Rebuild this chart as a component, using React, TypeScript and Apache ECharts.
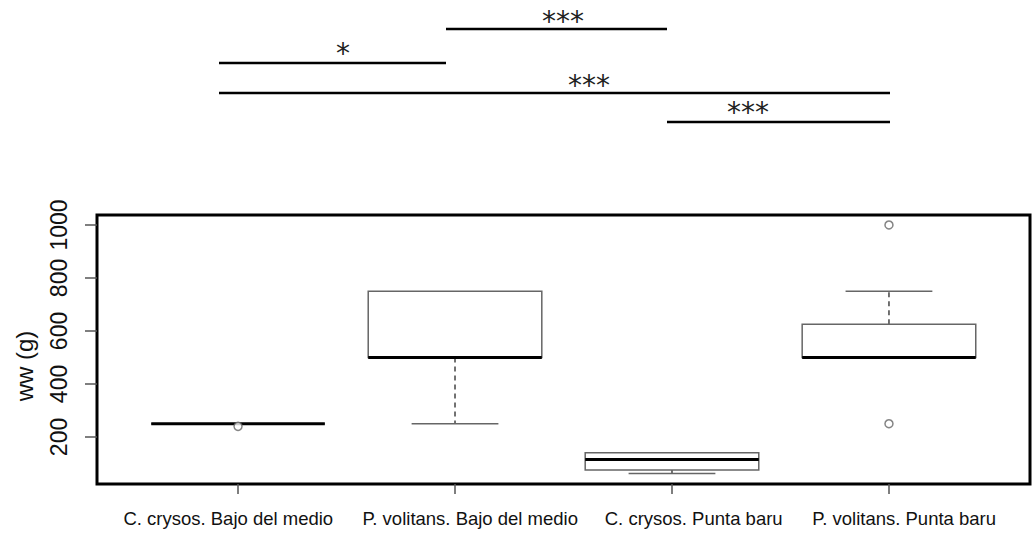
import React, { useEffect, useRef } from "react";
import * as echarts from "echarts";

const categories = [
  "C. crysos. Bajo del medio",
  "P. volitans. Bajo del medio",
  "C. crysos. Punta baru",
  "P. volitans. Punta baru",
];
const categoryPositions = [1, 2, 3, 4];
const labelPositions = [0.955, 2.07, 3.1, 4.07];
const lowerWhiskers = [250, 250, 62, 500];
const lowerQuartiles = [250, 500, 75, 500];
const medians = [250, 500, 115, 500];
const upperQuartiles = [250, 750, 140, 625];
const upperWhiskers = [250, 750, 140, 750];
const outlierGroups = [1, 4, 4];
const outlierValues = [240, 1000, 250];
const yTicks = [200, 400, 600, 800, 1000];

const comparisons = [
  { from: 219, to: 446, y: 63, label: "*", lx: 343, ly: 48 },
  { from: 446, to: 667, y: 29, label: "***", lx: 563, ly: 16 },
  { from: 219, to: 890, y: 93, label: "***", lx: 589, ly: 80 },
  { from: 667, to: 890, y: 122, label: "***", lx: 748, ly: 107 },
];

const FONT = "'Liberation Sans', Arial, sans-serif";

export default function App() {
  const ref = useRef<HTMLDivElement>(null);
  useEffect(() => {
    if (!ref.current) return;
    const chart = echarts.init(ref.current, null, { renderer: "svg" });
    const boxData = categories.map((_, i) => [
      categoryPositions[i],
      lowerQuartiles[i],
      medians[i],
      upperQuartiles[i],
      lowerWhiskers[i],
      upperWhiskers[i],
    ]);
    const outlierData = outlierGroups.map((g, i) => [g, outlierValues[i]]);

    const graphics: any[] = [];
    comparisons.forEach((c) => {
      graphics.push({
        type: "line",
        shape: { x1: c.from, y1: c.y, x2: c.to, y2: c.y },
        style: { stroke: "#000", lineWidth: 2.5 },
      });
      graphics.push({
        type: "text",
        x: c.lx,
        y: c.ly + 5,
        style: {
          text: c.label,
          font: "28px 'DejaVu Sans'",
          fill: "#222",
          align: "center",
          verticalAlign: "middle",
        },
      });
    });
    graphics.push({
      type: "text",
      x: 24,
      y: 366,
      rotation: Math.PI / 2,
      style: {
        text: "ww (g)",
        font: "24px 'Liberation Sans', Arial, sans-serif",
        fill: "#111",
        align: "center",
        verticalAlign: "middle",
      },
    });

    const labelFor = (v: number) => {
      let best = 0;
      labelPositions.forEach((p, i) => {
        if (Math.abs(p - v) < Math.abs(labelPositions[best] - v)) best = i;
      });
      return categories[best];
    };

    chart.setOption({
      animation: false,
      backgroundColor: "#fff",
      grid: {
        left: 97,
        right: 4,
        top: 215,
        bottom: 50,
        show: true,
        borderColor: "#000",
        borderWidth: 3,
        backgroundColor: "transparent",
      },
      xAxis: {
        type: "value",
        min: 0.35,
        max: 4.65,
        splitLine: { show: false },
        axisLine: { show: false },
        axisTick: {
          show: true,
          customValues: categoryPositions,
          length: 10,
          lineStyle: { color: "#555", width: 1.5 },
        },
        axisLabel: {
          customValues: labelPositions,
          showMinLabel: true,
          showMaxLabel: true,
          hideOverlap: false,
          formatter: (v: number) => labelFor(v),
          fontSize: 18.5,
          fontFamily: FONT,
          color: "#111",
          margin: 25,
        },
      },
      yAxis: {
        type: "value",
        min: 22.4,
        max: 1037.6,
        splitLine: { show: false },
        axisLine: { show: false },
        axisTick: {
          show: true,
          customValues: yTicks,
          length: 12,
          lineStyle: { color: "#555", width: 1.5 },
        },
        axisLabel: {
          customValues: yTicks,
          showMinLabel: true,
          showMaxLabel: true,
          formatter: (v: number) => String(v),
          rotate: 90,
          fontSize: 23,
          fontFamily: FONT,
          color: "#111",
          margin: 27,
        },
      },
      graphic: graphics,
      series: [
        {
          type: "custom",
          data: boxData,
          renderItem: (params: any, api: any) => {
            const x = api.value(0);
            const q1 = api.coord([x, api.value(1)]);
            const med = api.coord([x, api.value(2)]);
            const q3 = api.coord([x, api.value(3)]);
            const lo = api.coord([x, api.value(4)]);
            const hi = api.coord([x, api.value(5)]);
            const w = api.size([0.8, 0])[0];
            const cx = q1[0];
            const gray = "#666";
            const children: any[] = [];
            if (hi[1] < q3[1] - 0.5) {
              children.push({
                type: "line",
                shape: { x1: cx, y1: q3[1], x2: cx, y2: hi[1] },
                style: { stroke: "#444", lineWidth: 1.5, lineDash: [5, 4] },
              });
              children.push({
                type: "line",
                shape: { x1: cx - w / 4, y1: hi[1], x2: cx + w / 4, y2: hi[1] },
                style: { stroke: gray, lineWidth: 1.5 },
              });
            }
            if (lo[1] > q1[1] + 0.5) {
              children.push({
                type: "line",
                shape: { x1: cx, y1: q1[1], x2: cx, y2: lo[1] },
                style: { stroke: "#444", lineWidth: 1.5, lineDash: [5, 4] },
              });
              children.push({
                type: "line",
                shape: { x1: cx - w / 4, y1: lo[1], x2: cx + w / 4, y2: lo[1] },
                style: { stroke: gray, lineWidth: 1.5 },
              });
            }
            children.push({
              type: "rect",
              shape: { x: cx - w / 2, y: q3[1], width: w, height: Math.max(q1[1] - q3[1], 0) },
              style: { fill: "#fff", stroke: gray, lineWidth: 1.5 },
            });
            children.push({
              type: "line",
              shape: { x1: cx - w / 2, y1: med[1], x2: cx + w / 2, y2: med[1] },
              style: { stroke: "#000", lineWidth: 3 },
            });
            return { type: "group", children };
          },
          z: 2,
        },
        {
          type: "scatter",
          data: outlierData,
          symbol: "circle",
          symbolSize: 8,
          itemStyle: { color: "#fff", borderColor: "#666", borderWidth: 1.5 },
          z: 3,
        },
      ],
    });
    return () => chart.dispose();
  }, []);
  return (
    <div
      ref={ref}
      style={{ position: "fixed", left: 0, top: 0, width: 1034, height: 534, background: "#fff" }}
    />
  );
}
